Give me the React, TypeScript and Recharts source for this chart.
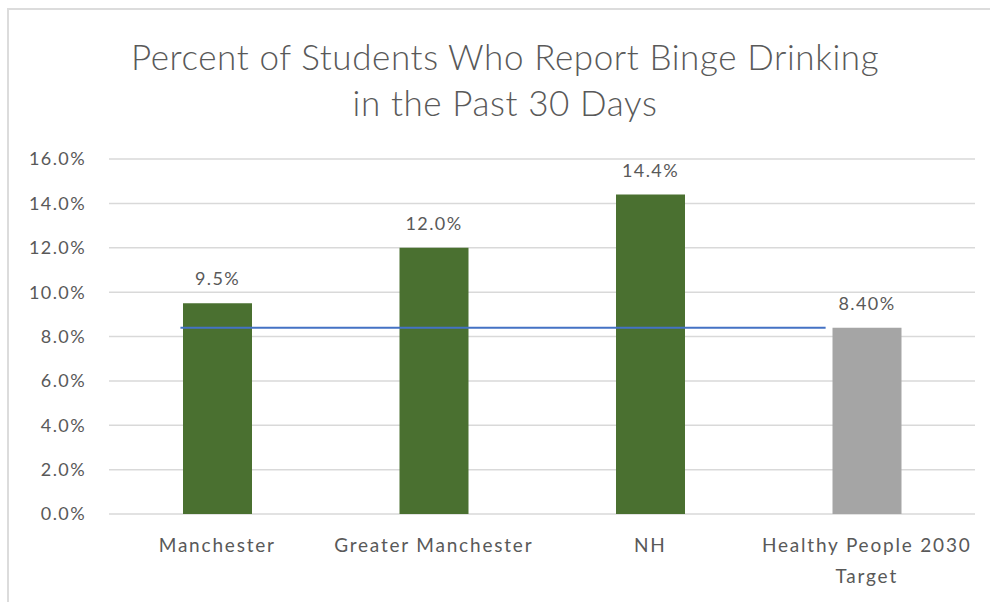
import React from 'react';
import { BarChart, Bar, XAxis, YAxis, CartesianGrid, LabelList, Cell, ReferenceLine } from 'recharts';

const categories = ['Manchester', 'Greater Manchester', 'NH', 'Healthy People 2030 Target'];
const values = [9.5, 12.0, 14.4, 8.4];
const valueLabels = ['9.5%', '12.0%', '14.4%', '8.40%'];
const barColors = ['#4a7030', '#4a7030', '#4a7030', '#a5a5a5'];
const yTicks = [0, 2, 4, 6, 8, 10, 12, 14, 16];
const tickLines: Record<string, string[]> = {
  'Healthy People 2030 Target': ['Healthy People 2030', 'Target'],
};
const targetValue = 8.4;
// start / end of the target line, in category-band units from the left edge of the plot
const targetLineX = [0.33, 3.31];

const data = categories.map((c, i) => ({ name: c, value: values[i], label: valueLabels[i] }));

const FONT = 'Lato, "Open Sans", sans-serif';
const GREY = '#595959';

const XTick = (props: any) => {
  const { x, y, payload } = props;
  const lines = tickLines[payload.value] || [payload.value];
  return (
    <g>
      {lines.map((l: string, i: number) => (
        <text key={i} x={x} y={y + 30 + i * 31} textAnchor="middle" fill={GREY} fontSize={19} letterSpacing={1.8} fontFamily={FONT}>
          {l}
        </text>
      ))}
    </g>
  );
};

const TargetShape = (p: any) => {
  const { x1, x2, y1 } = p;
  const w = x2 - x1;
  const n = categories.length;
  return (
    <line
      x1={x1 + (w * targetLineX[0]) / n}
      x2={x1 + (w * targetLineX[1]) / n}
      y1={y1}
      y2={y1}
      stroke="#4472c4"
      strokeWidth={2}
    />
  );
};

export default function App() {
  return (
    <div style={{ position: 'absolute', left: 0, top: 0, width: 990, height: 602, background: '#fff', fontFamily: FONT }}>
      <div style={{ position: 'absolute', left: 7, top: 8, right: 0, bottom: 0, borderTop: '2px solid #dcdcdc', borderLeft: '2px solid #dcdcdc' }} />
      <div style={{ position: 'absolute', left: 0, width: 1010, top: 33, textAlign: 'center', color: '#595959', fontSize: 35, fontWeight: 300, letterSpacing: 0.6, lineHeight: '46px' }}>
        Percent of Students Who Report Binge Drinking
        <br />
        in the Past 30 Days
      </div>
      <div style={{ position: 'absolute', left: 0, top: 0 }}>
        <BarChart width={990} height={602} data={data} margin={{ top: 159, right: 15, bottom: 0, left: 0 }}>
          <CartesianGrid vertical={false} stroke="#d9d9d9" strokeWidth={1.5} />
          <XAxis dataKey="name" axisLine={false} tickLine={false} height={88} tick={<XTick />} interval={0} />
          <YAxis
            domain={[0, 16]}
            ticks={yTicks}
            width={109}
            axisLine={false}
            tickLine={false}
            tickMargin={17}
            tickFormatter={(v: number) => `${v.toFixed(1)}%`}
            tick={{ fill: GREY, fontSize: 18, letterSpacing: 1.4, fontFamily: FONT }}
          />
          <Bar dataKey="value" barSize={69} isAnimationActive={false}>
            {data.map((d, i) => (
              <Cell key={d.name} fill={barColors[i]} />
            ))}
            <LabelList dataKey="label" position="top" offset={18} fill={GREY} fontSize={18} letterSpacing={1.4} fontFamily={FONT} />
          </Bar>
          <ReferenceLine y={targetValue} shape={<TargetShape />} ifOverflow="visible" />
        </BarChart>
      </div>
    </div>
  );
}
